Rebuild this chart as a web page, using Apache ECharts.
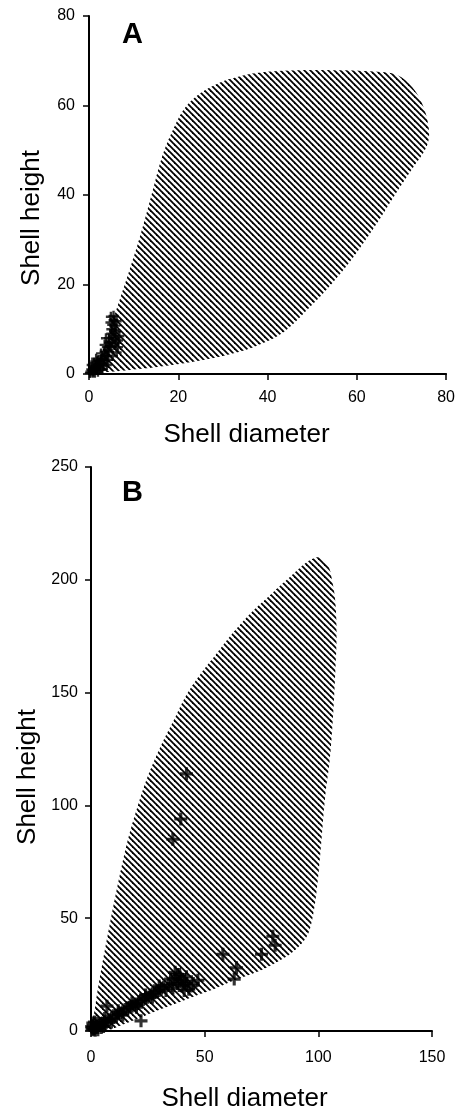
<!DOCTYPE html>
<html>
<head>
<meta charset="utf-8">
<script src="https://cdn.jsdelivr.net/npm/echarts@6/dist/echarts.min.js"></script>
<style>
html,body{margin:0;padding:0;background:#fff;}
#chart{width:458px;height:1117px;}
</style>
</head>
<body>
<div id="chart"></div>
<script>
// ---- Data ----
// Panel A: envelope of the hatched region (shell diameter, shell height)
const envelopeA = [[1.5,1.5],[3,5],[5,11],[7,17],[9,23],[11.5,31],[14,40],[16.5,49],[19,55],[21.5,59.5],[25,62.8],[29,65],[33,66.3],[38,67.3],[45,67.8],[55,67.9],[64,67.6],[69,66.8],[72.5,64],[75,59.5],[76.2,54],[75.5,50.5],[72.5,46],[69.5,41.5],[66,36],[62,30],[58,24.5],[54.5,20.3],[50,15.5],[43.5,9.3],[38,6.5],[32,4.5],[25,3],[17,1.8],[10,1],[5,0.5],[2.5,0.6]];
// Panel A: observed specimens
const pointsA = [[0.3,0.5],[0.5,1],[0.8,0.3],[1,1.5],[1,0.5],[1.2,2.5],[1.5,1],[1.5,2],[2,0.5],[2,1.5],[2,3],[2.5,2],[2.5,1],[3,2.5],[3,1],[3,4],[3.5,3],[3.5,5],[4,4],[4,6],[4,2],[4.5,5],[4.5,7],[4.5,8],[5,9],[5,6],[5,10],[5.2,11],[5.5,12],[5.5,13],[5.8,8],[6,7],[6,9.5],[6.5,7.5],[4.8,11.5],[3.8,8],[5.3,4],[6.5,6],
  [0.2,0.2],[0.7,0.8],[1.3,0.3],[1.8,2.8],[2.2,2.2],[2.8,3.2],[3.2,1.8],[3.3,3.5],[3.7,4.2],[4.2,5.3],[4.3,3.2],[4.7,6.2],[5.1,7.2],[5.4,8.5],[5.6,9.8],[5.9,10.8],[6.2,11.8],[4.9,12.8],[5.7,6.5],[6.8,8.5],[3.5,6.5],[2.7,4.6],[1.6,3.4],[0.6,2],[6.2,4.8]];
// Panel B: envelope of the hatched region
const envelopeB = [[1,1],[2,12],[5,30],[8,46],[12,66],[16,84],[20,98],[25,113],[31,127],[37,139],[42,149],[48,158],[55,167],[62,176],[70,185],[78,192.5],[85,199],[91,204.5],[96,208.5],[100,210],[104,207],[106,200],[107.5,190],[108,175],[107.5,160],[106.5,140],[105,120],[103,104],[101,80],[99,60],[97,48],[95,42],[91,37],[86,33],[78,28.5],[70,25],[62,22],[55,19],[47.5,16.2],[40,13.2],[33,10.5],[25,7.3],[18,4.4],[12,2],[8,0.5],[4,0.3]];
// Panel B: observed specimens
const pointsB = [[0.5,0.5],[1,1],[1.5,0.8],[2,1.5],[2.5,2],[3,1.5],[1,2.5],[3.5,2.5],[4,3],[5,3.5],[6,4],[7,4.5],[8,5],[9,5.5],[10,6],[11,7],[12,7.5],[13,8],[14,8.5],[15,9.5],[16,10],[17,10.5],[18,11],[19,11.5],[20,12],[21,13],[22,13.5],[23,14],[24,14.5],[25,15],[26,16],[27,16.5],[28,17],[29,17.5],[30,18],[31,19],[32,19.5],[34,20.5],[36,21],[37,23.5],[38,25],[39,22],[40,20],[41,18],[42,21],[44,20],[47,22.5],[39,25],[7,11],[22,4.5],[36,85],[39.5,94],[42,114],[58,34],[64,28],[63,23],[75,34],[80,42],[81,38],
  [0.3,2],[0.8,3.5],[1.5,4],[2.5,3.5],[0.5,1.5],[3,0.5],[4.5,1.5],[5.5,2],[1.8,0.3],[6,5.5],[9,4],[12,9],[14,7],[18,12.5],[20,10.5],[24,16],[27,15],[30,20],[33,18],[35,23],[36,19],[38,21],[40,23],[42,24],[43,18.5],[45,21],[37,26],[41,22]];
// Tick settings
const ticksA = {min:0, max:80, interval:20};
const ticksBx = {min:0, max:150, interval:50};
const ticksBy = {min:0, max:250, interval:50};

// ---- Styling helpers ----
function hatch(period, lw){
  const c = document.createElement('canvas');
  c.width = period; c.height = period;
  const g = c.getContext('2d');
  g.strokeStyle = '#000'; g.lineWidth = lw;
  for (let k=-1;k<=1;k++){
    g.beginPath();
    g.moveTo(k*period-1, -1);
    g.lineTo(k*period+period+1, period+1);
    g.stroke();
  }
  return c;
}
const patA = {image: hatch(6, 1.8), repeat:'repeat'};
const patB = {image: hatch(6, 1.8), repeat:'repeat'};
const FONT = 'Liberation Sans, Arial, Helvetica, sans-serif';
const plus = 'path://M-1.2,-5H1.2V-1.2H5V1.2H1.2V5H-1.2V1.2H-5V-1.2H-1.2Z';

function axisCommon(t, labelMargin){
  return {
    type:'value', min:t.min, max:t.max, interval:t.interval,
    splitLine:{show:false},
    axisLine:{show:true, onZero:false, lineStyle:{color:'#000', width:2}},
    axisTick:{show:true, inside:false, length:6, lineStyle:{color:'#000', width:1.5}},
    axisLabel:{color:'#000', fontFamily:FONT, fontSize:16, margin:labelMargin},
    nameLocation:'middle',
    nameTextStyle:{color:'#000', fontFamily:FONT, fontSize:26}
  };
}
function region(gridIdx, pts, pat){
  return {
    type:'custom', xAxisIndex:gridIdx, yAxisIndex:gridIdx, z:1, silent:true,
    data: pts,
    renderItem: function(params, api){
      if (params.dataIndex !== 0) return null;
      const P = pts.map(p => api.coord(p));
      return {type:'polygon', shape:{points:P, smooth:0.35}, style:{fill:pat, stroke:null}};
    }
  };
}

const chart = echarts.init(document.getElementById('chart'), null, {renderer:'canvas'});
chart.setOption({
  backgroundColor:'#fff',
  animation:false,
  grid:[
    {left:89, top:16, width:358, height:358},
    {left:91, top:467, width:341, height:570}
  ],
  xAxis:[
    Object.assign(axisCommon(ticksA, 16), {gridIndex:0, name:'Shell diameter', nameGap:48,
      nameTextStyle:{color:'#000', fontFamily:FONT, fontSize:26, padding:[0,42,0,0]}}),
    Object.assign(axisCommon(ticksBx, 19), {gridIndex:1, name:'Shell diameter', nameGap:55,
      nameTextStyle:{color:'#000', fontFamily:FONT, fontSize:26, padding:[0,34,0,0]}})
  ],
  yAxis:[
    Object.assign(axisCommon(ticksA, 14), {gridIndex:0, name:'Shell height', nameGap:44,
      nameTextStyle:{color:'#000', fontFamily:FONT, fontSize:26, padding:[0,46,0,0]}}),
    Object.assign(axisCommon(ticksBy, 13), {gridIndex:1, name:'Shell height', nameGap:46,
      nameTextStyle:{color:'#000', fontFamily:FONT, fontSize:26, padding:[0,56,0,0]}})
  ],
  graphic:[
    {type:'text', left:122, top:20, style:{text:'A', font:'bold 29px '+FONT, fill:'#000'}},
    {type:'text', left:122, top:478, style:{text:'B', font:'bold 29px '+FONT, fill:'#000'}}
  ],
  series:[
    region(0, envelopeA, patA),
    region(1, envelopeB, patB),
    {type:'scatter', xAxisIndex:0, yAxisIndex:0, z:3, data:pointsA, symbol:plus, symbolSize:10,
      itemStyle:{color:'#000'}},
    {type:'scatter', xAxisIndex:1, yAxisIndex:1, z:3, data:pointsB, symbol:plus, symbolSize:13,
      itemStyle:{color:'#000'}}
  ]
});
</script>
</body>
</html>
